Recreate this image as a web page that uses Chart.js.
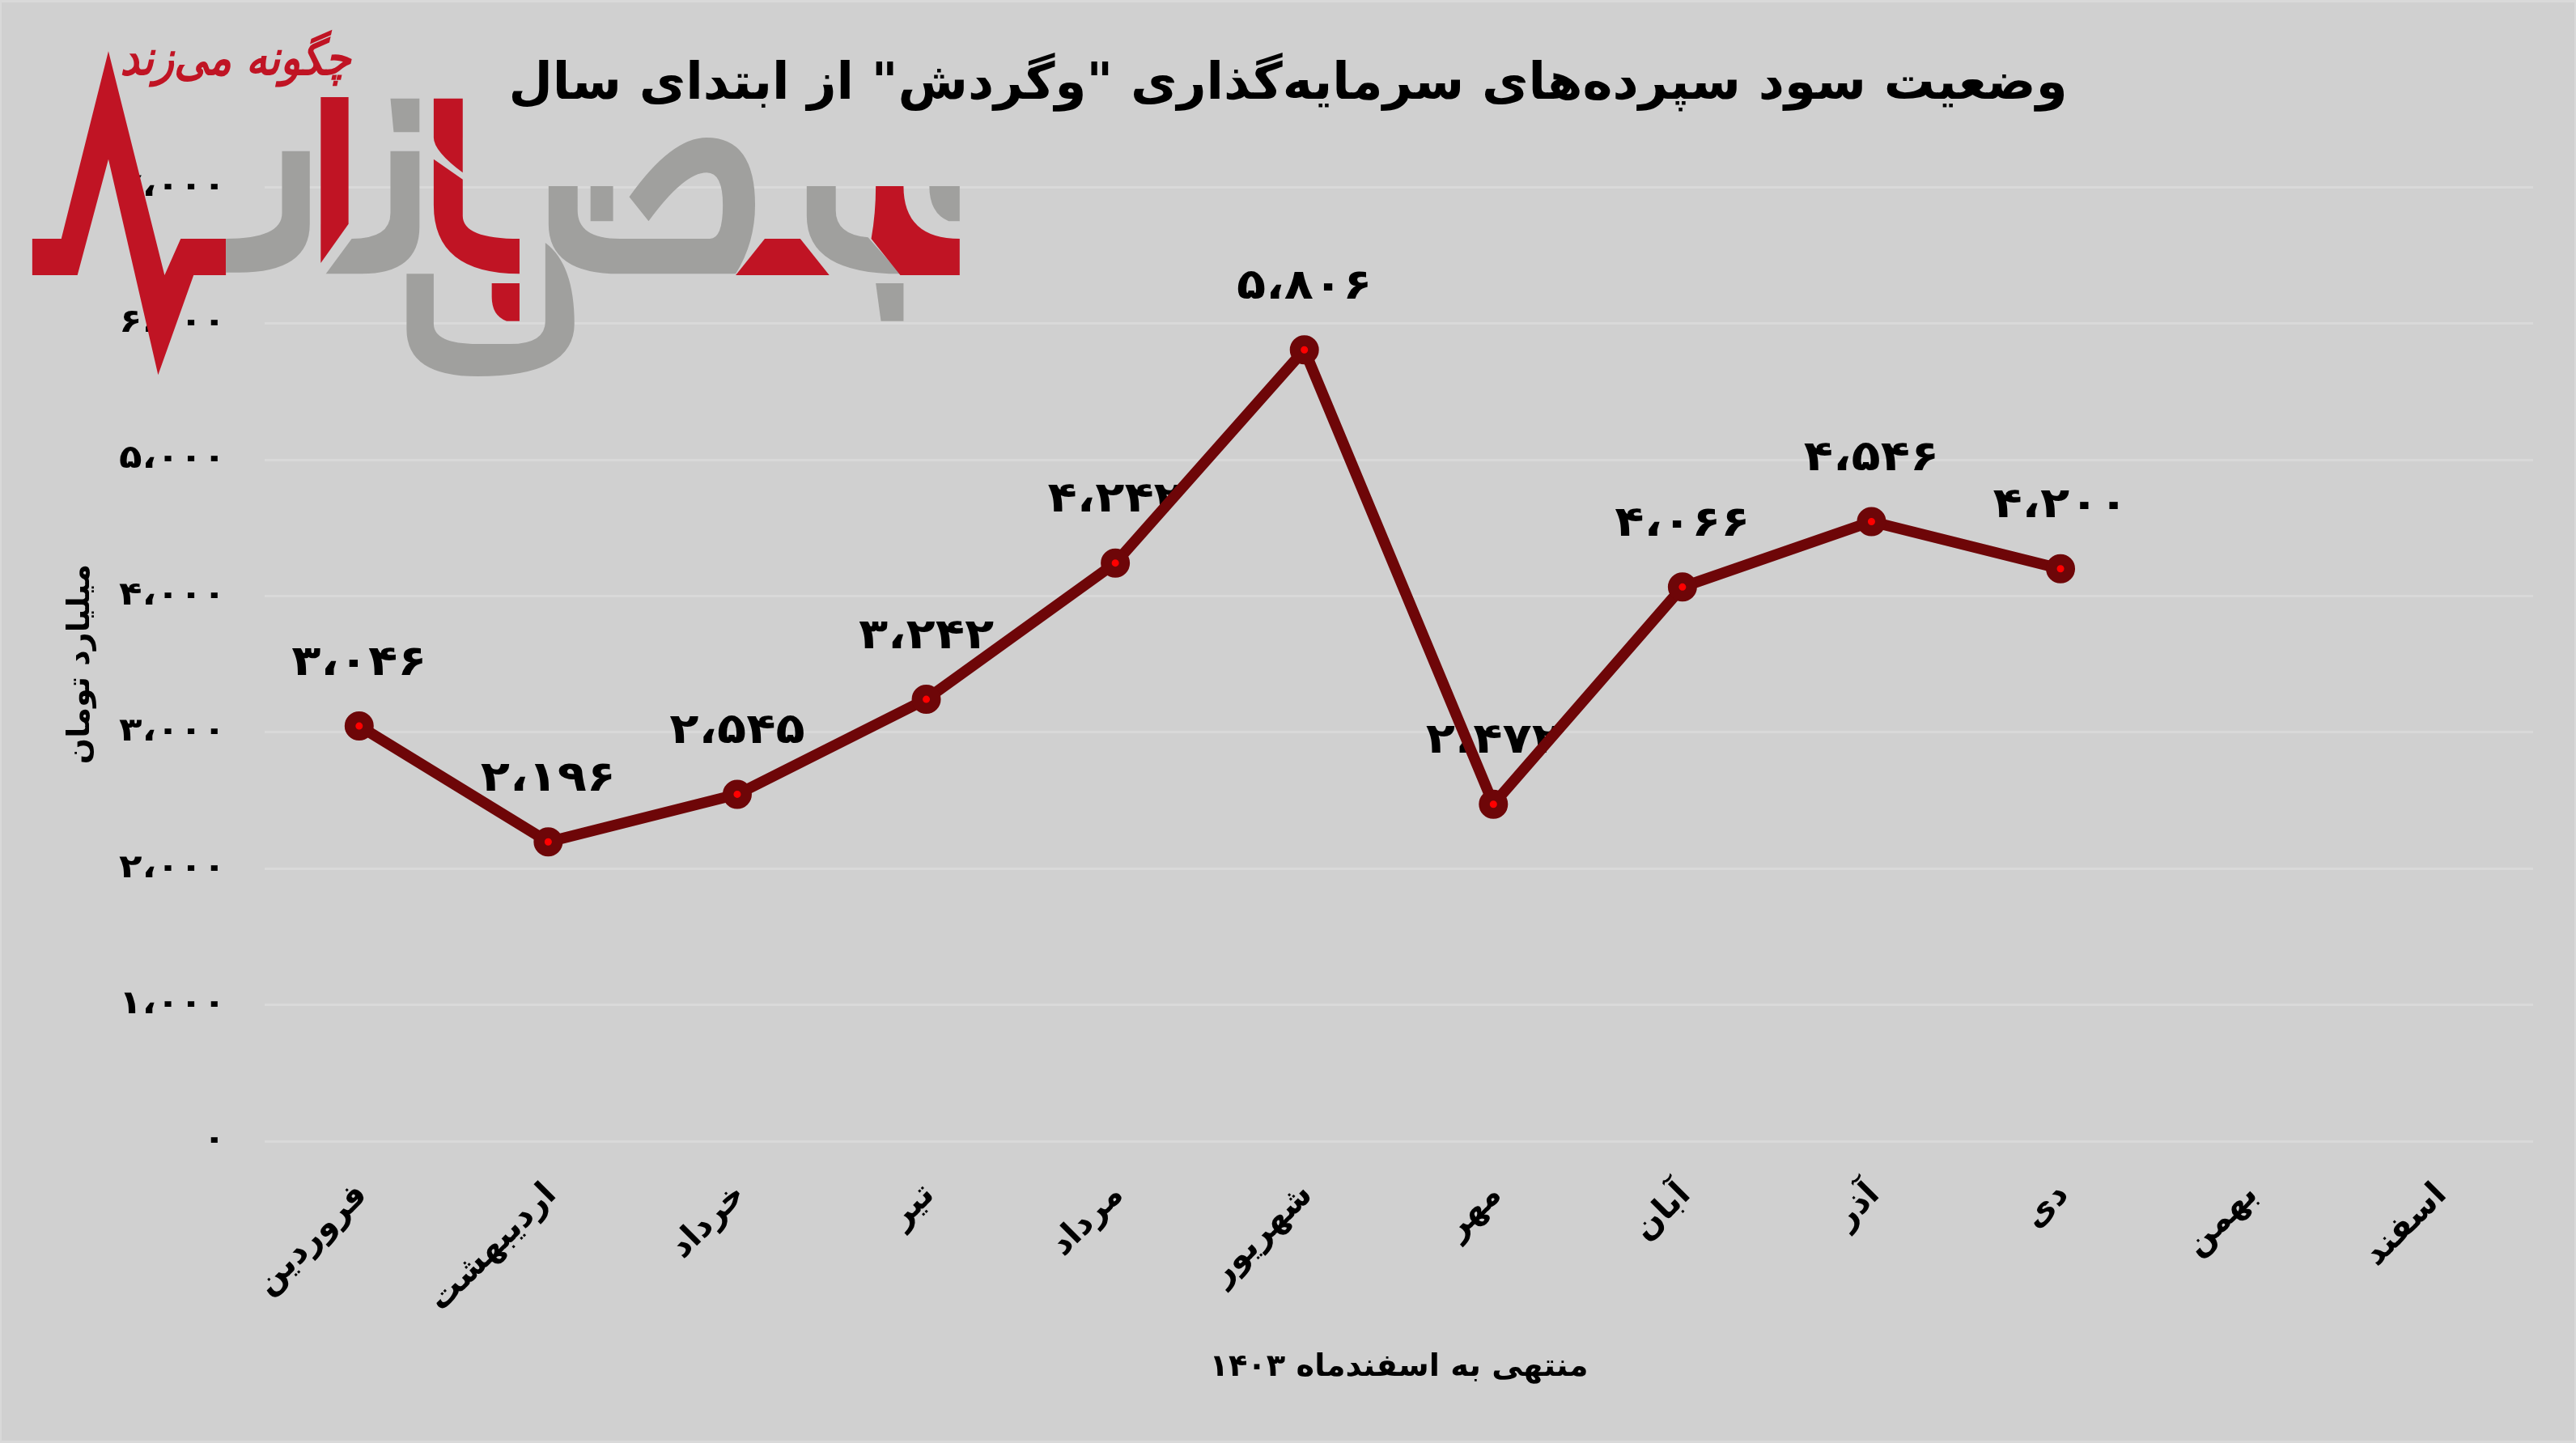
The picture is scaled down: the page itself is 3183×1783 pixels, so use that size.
<!DOCTYPE html>
<html lang="fa" dir="rtl">
<head>
<meta charset="utf-8">
<title>وضعیت سود سپرده‌های سرمایه‌گذاری</title>
<script src="https://cdn.jsdelivr.net/npm/chart.js@4"></script>
<style>
  html, body { margin: 0; padding: 0; background: #d9d9d9; overflow: hidden; }
  #chart { position: absolute; left: 0; top: 0; display: block; }
</style>
</head>
<body>
<canvas id="chart" width="3183" height="1783"></canvas>
<script>
// Chart data
const months = ['فروردین', 'اردیبهشت', 'خرداد', 'تیر', 'مرداد', 'شهریور', 'مهر', 'آبان', 'آذر', 'دی', 'بهمن', 'اسفند'];
const profit = [3046, 2196, 2545, 3242, 4242, 5806, 2472, 4066, 4546, 4200, null, null];
const profitLabels = ['۳،۰۴۶', '۲،۱۹۶', '۲،۵۴۵', '۳،۲۴۲', '۴،۲۴۲', '۵،۸۰۶', '۲،۴۷۲', '۴،۰۶۶', '۴،۵۴۶', '۴،۲۰۰', '', ''];
const yTickLabels = ['۰', '۱،۰۰۰', '۲،۰۰۰', '۳،۰۰۰', '۴،۰۰۰', '۵،۰۰۰', '۶،۰۰۰', '۷،۰۰۰'];

const chartTitle = 'وضعیت سود سپرده‌های سرمایه‌گذاری "وگردش" از ابتدای سال';
const yTitle = 'میلیارد تومان';
const xTitle = 'منتهی به اسفندماه ۱۴۰۳';
const logoText = 'چگونه می‌زند';

const FONT = '"DejaVu Sans", sans-serif';
const RED = '#c01424';
const GREY = '#a0a09e';
const Y_TICK_PAD = 48;

// background with the lighter edge of the picture
const backdrop = {
  id: 'backdrop',
  beforeDraw(chart) {
    const c = chart.ctx;
    c.save();
    c.fillStyle = '#d9d9d9';
    c.fillRect(0, 0, chart.width, chart.height);
    c.fillStyle = '#d0d0d0';
    c.fillRect(2, 3, chart.width - 4, chart.height - 6);
    c.restore();
  }
};

// the reference digits are wider than DejaVu, stretch the y ticks from their right edge
const wideTicks = {
  id: 'wideTicks',
  beforeDraw(chart) {
    const y = chart.scales.y;
    if (y.widened) return;
    const drawLabels = y.drawLabels;
    y.drawLabels = function(area) {
      const c = chart.ctx;
      const edge = y.right - Y_TICK_PAD;
      c.save();
      c.translate(edge, 0);
      c.scale(1.17, 1);
      c.translate(-edge, 0);
      drawLabels.call(y, area);
      c.restore();
    };
    y.widened = true;
  }
};

// numbers above the points, the line runs over them
const valueLabels = {
  id: 'valueLabels',
  beforeDatasetsDraw(chart) {
    const c = chart.ctx;
    const pts = chart.getDatasetMeta(0).data;
    c.font = 'bold 52px ' + FONT;
    c.fillStyle = '#000';
    c.textAlign = 'center';
    c.textBaseline = 'middle';
    pts.forEach((p, i) => {
      if (profit[i] === null) return;
      c.save();
      c.translate(p.x, p.y - 77);
      c.scale(1.14, 1);
      c.fillText(profitLabels[i], 0, 0);
      c.restore();
    });
  }
};

// site logo on top of the chart, traced in a 1.254 x 3 grid
const logoParts = [
  [RED, 'M50,885 L95,885 L168,190 L255,1020 L280,885 L350,885 L350,1020 L300,1020 L245,1390 L168,590 L120,1020 L50,1020 Z'],
  [GREY, 'M350,885 Q437,885 437,790 L437,560 L480,560 L480,830 Q480,1010 370,1010 L350,1010 Z'],
  [RED, 'M497,360 L540,360 L540,830 L497,975 Z'],
  [GREY, 'M505,1015 L545,885 Q605,885 605,790 L605,560 L650,560 L650,840 Q650,1015 560,1015 Z'],
  [GREY, 'M605,365 L650,365 L650,490 L610,490 Z'],
  [RED, 'M672,365 L717,365 L717,640 Q672,560 672,510 Z'],
  [RED, 'M672,590 L717,665 L717,800 Q717,885 805,885 L805,1015 Q672,1015 672,760 Z'],
  [RED, 'M762,1050 L805,1050 L805,1190 L785,1190 Q762,1170 762,1100 Z'],
  [GREY, 'M630,1015 L672,1015 L672,1200 Q672,1275 740,1275 L790,1275 Q845,1275 845,1190 L845,900 Q890,980 890,1200 Q890,1395 740,1395 Q630,1395 630,1220 Z'],
  [GREY, 'M850,690 L895,690 L895,780 Q895,885 960,885 L1100,885 Q1120,885 1120,760 Q1120,640 1095,640 Q1060,640 1005,820 L975,730 Q1040,510 1095,510 Q1170,510 1170,760 Q1170,900 1140,1015 L960,1015 Q850,1015 850,830 Z'],
  [GREY, 'M915,690 L950,690 L950,820 L915,820 Z'],
  [RED, 'M1140,1020 L1185,885 L1240,885 L1285,1020 Z'],
  [GREY, 'M1250,690 L1295,690 L1295,780 Q1295,870 1345,880 L1395,1015 Q1250,1015 1250,800 Z'],
  [GREY, 'M1357,1050 L1400,1050 L1400,1190 L1365,1190 Z'],
  [GREY, 'M1440,690 L1487,690 L1487,820 L1470,820 Q1440,790 1440,690 Z'],
  [RED, 'M1357,690 L1400,690 Q1400,885 1487,885 L1487,1020 L1395,1020 L1350,885 Q1357,790 1357,690 Z']
];

const logo = {
  id: 'logo',
  afterDraw(chart) {
    const c = chart.ctx;
    c.save();
    c.save();
    c.scale(1 / 1.254, 1 / 3);
    logoParts.forEach(part => {
      c.fillStyle = part[0];
      c.fill(new Path2D(part[1]));
    });
    c.restore();
    c.fillStyle = RED;
    c.font = 'italic bold 60px ' + FONT;
    c.textAlign = 'center';
    c.textBaseline = 'middle';
    c.fillText(logoText, 291, 76, 285);
    c.restore();
  }
};

new Chart(document.getElementById('chart'), {
  type: 'line',
  data: {
    labels: months,
    datasets: [{
      data: profit,
      borderColor: '#6e0608',
      borderWidth: 13.5,
      pointBackgroundColor: '#ff0000',
      pointBorderColor: '#6e0608',
      pointBorderWidth: 13.5,
      pointRadius: 11.25,
      pointHoverRadius: 11.25,
      tension: 0,
      spanGaps: false
    }]
  },
  options: {
    responsive: false,
    animation: false,
    layout: { padding: { top: 68, right: 53, bottom: 66, left: 53 } },
    plugins: {
      legend: { display: false },
      tooltip: { enabled: false },
      title: {
        display: true,
        text: chartTitle,
        color: '#000',
        font: { family: FONT, size: 62.7, weight: 'bold' },
        padding: { top: 0, bottom: 88 }
      }
    },
    scales: {
      x: {
        offset: true,
        grid: { display: false },
        border: { display: false },
        ticks: {
          color: '#000',
          font: { family: FONT, size: 41, weight: 'bold' },
          minRotation: 45,
          maxRotation: 45,
          padding: 35,
          labelOffset: 4
        },
        title: {
          display: true,
          text: xTitle,
          color: '#000',
          font: { family: FONT, size: 38.4, weight: 'bold' }
        },
        afterFit(s) {
          s.height = 307;
          s.paddingLeft = 0;
          s.paddingRight = 0;
        }
      },
      y: {
        min: 0,
        max: 7000,
        grid: { color: '#d9d9d9', lineWidth: 3, drawTicks: false },
        border: { display: false },
        ticks: {
          stepSize: 1000,
          color: '#000',
          font: { family: FONT, size: 40, weight: 'bold' },
          padding: Y_TICK_PAD,
          callback: (v, i) => yTickLabels[i]
        },
        title: {
          display: true,
          text: yTitle,
          color: '#000',
          font: { family: FONT, size: 38, weight: 'bold' },
          padding: { top: 24, bottom: 4 }
        },
        afterFit(s) { s.width = 274; }
      }
    }
  },
  plugins: [backdrop, wideTicks, valueLabels, logo]
});
</script>
</body>
</html>
